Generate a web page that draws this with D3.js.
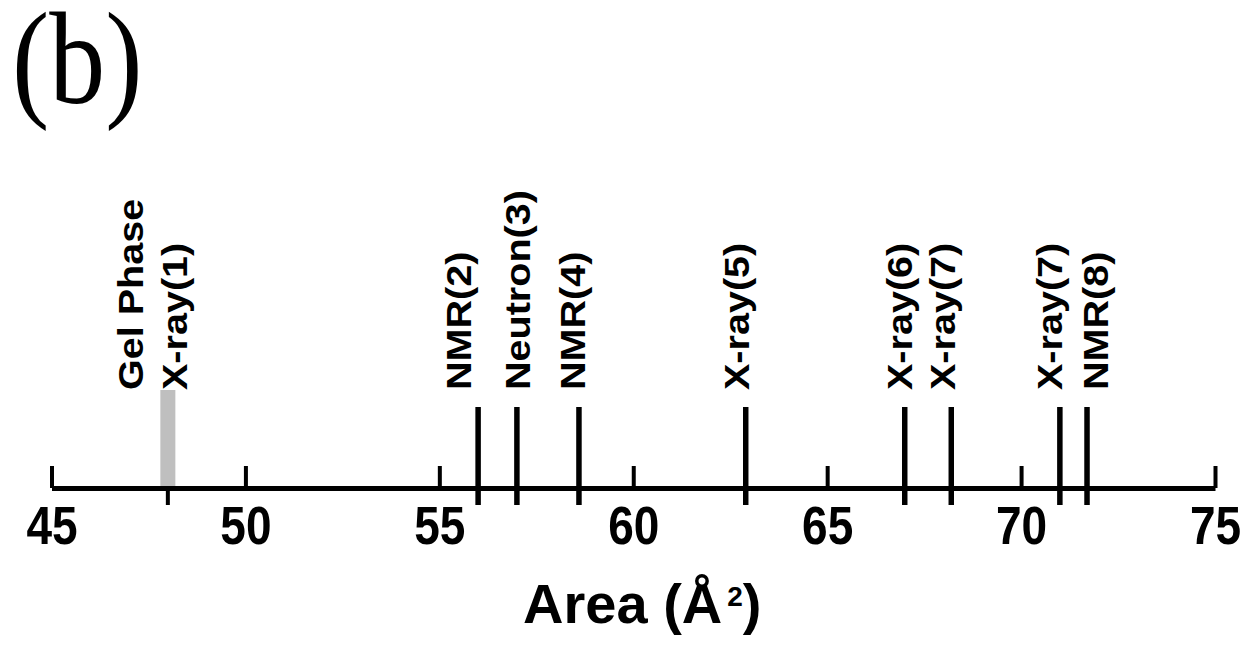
<!DOCTYPE html>
<html>
<head>
<meta charset="utf-8">
<script src="https://cdn.jsdelivr.net/npm/d3@7"></script>
<style>
  body { margin: 0; background: #fff; }
  svg { display: block; }
</style>
</head>
<body>
<div id="my_dataviz"></div>
<script>
// ---- data
var methods = ["X-ray(1)", "NMR(2)", "Neutron(3)", "NMR(4)", "X-ray(5)", "X-ray(6)", "X-ray(7)", "X-ray(7)", "NMR(8)"];
var areas = [48.0, 56.0, 57.0, 58.6, 62.9, 67.0, 68.2, 71.0, 71.7];
// where each label sits, in the same units (A^2)
var labelAreas = [48.18, 55.48, 57.0, 58.43, 62.65, 66.87, 67.96, 70.72, 71.92];
var gelLabel = "Gel Phase";
var gelLabelArea = 47.04;
var gelArea = 48.0;
var tickValues = [45, 50, 55, 60, 65, 70, 75];

// ---- plotting initialisation
var width = 1256, height = 648;
var axisY = 488;
var lineTop = 407, lineBottom = 505;
var labelBase = 390;

var svg = d3.select("div#my_dataviz")
    .append("svg")
      .attr("width", width)
      .attr("height", height);

const xScale = d3.scaleLinear()
    .domain([45, 75])
    .range([51.5, 1215]);

// panel letter
svg.append("text")
    .attr("transform", "translate(12,103) scale(1,1.18)")
    .attr("font-family", "'Liberation Serif', 'Times New Roman', serif")
    .attr("font-size", 112)
    .attr("fill", "#000")
    .text("(b)");

// measurement lines
svg.selectAll(".meas")
    .data(areas)
    .enter().append("line")
      .attr("class", "meas")
      .attr("x1", d => xScale(d))
      .attr("x2", d => xScale(d))
      .attr("y1", lineTop)
      .attr("y2", lineBottom)
      .attr("stroke", "#000")
      .attr("stroke-width", d => d === gelArea ? 4 : 5.5);

// gel phase bar (grey, sits on top of the black line)
svg.append("rect")
    .attr("x", xScale(gelArea) - 7.5)
    .attr("y", labelBase)
    .attr("width", 15)
    .attr("height", axisY - labelBase - 2)
    .attr("fill", "#bfbfbf");

// vertical labels
var labelFont = "'Liberation Sans', Arial, Helvetica, sans-serif";
var labels = methods.map((m, i) => ({text: m, at: labelAreas[i]}));
labels.push({text: gelLabel, at: gelLabelArea});

svg.selectAll(".lab")
    .data(labels)
    .enter().append("text")
      .attr("class", "lab")
      .attr("transform", d => "translate(" + xScale(d.at) + "," + labelBase + ") rotate(-90) scale(1.13,1)")
      .attr("dy", "0.36em")
      .attr("font-family", labelFont)
      .attr("font-weight", "bold")
      .attr("font-size", 35)
      .attr("fill", "#000")
      .text(d => d.text);

// axis: ticks pointing up, labels below
var axis = svg.append("g")
    .attr("transform", "translate(0," + axisY + ")")
    .call(d3.axisBottom(xScale)
        .tickValues(tickValues)
        .tickSizeInner(-22)
        .tickSizeOuter(0)
        .tickPadding(16));

axis.select(".domain")
    .attr("stroke", "#000")
    .attr("stroke-width", 5);
axis.selectAll(".tick line")
    .attr("stroke", "#000")
    .attr("stroke-width", 4);
axis.selectAll(".tick text")
    .attr("font-family", labelFont)
    .attr("font-weight", "bold")
    .attr("font-size", 46)
    .attr("fill", "#000")
    .attr("transform", "scale(1,1.15)");

// axis title
var title = svg.append("text")
    .attr("x", (xScale.range()[0] + xScale.range()[1]) / 2 + 9)
    .attr("y", 623)
    .attr("text-anchor", "middle")
    .attr("font-family", labelFont)
    .attr("font-weight", "bold")
    .attr("font-size", 56)
    .attr("fill", "#000");
title.append("tspan").text("Area (\u00C5");
title.append("tspan")
    .attr("dx", 5)
    .attr("dy", -17)
    .attr("font-size", 28)
    .text("2");
title.append("tspan")
    .attr("dy", 17)
    .text(")");
</script>
</body>
</html>
